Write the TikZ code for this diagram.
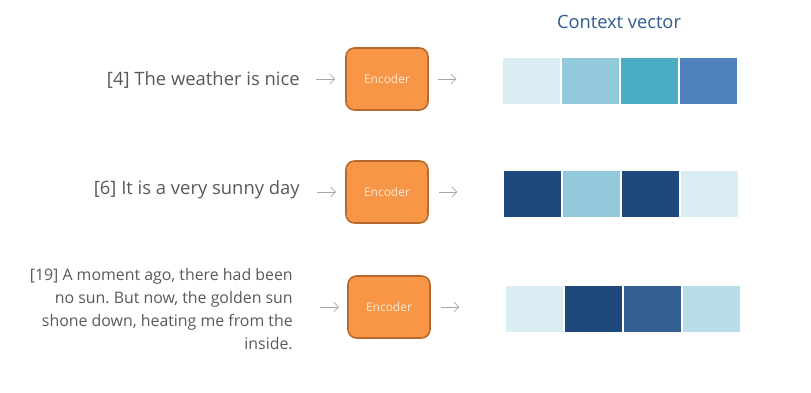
\documentclass[tikz,border=0pt]{standalone}
\usepackage{fontspec}
\setmainfont{Open Sans}
\usetikzlibrary{positioning,arrows.meta}

\definecolor{txtgray}{HTML}{595959}
\definecolor{titleblue}{HTML}{2E5A8F}
\definecolor{arrgray}{HTML}{A6A6A6}
\definecolor{encfill}{HTML}{F79646}
\definecolor{encline}{HTML}{B7692E}
\definecolor{enctext}{HTML}{FDE9D9}
\definecolor{vpale}{HTML}{DAEDF3}
\definecolor{vlight}{HTML}{92CADB}
\definecolor{vsoft}{HTML}{B7DEE8}
\definecolor{vteal}{HTML}{4BACC6}
\definecolor{vmid}{HTML}{4F81BD}
\definecolor{vsteel}{HTML}{355F91}
\definecolor{vnavy}{HTML}{1F497D}

\begin{document}
\frenchspacing
\begin{tikzpicture}[x=0.025cm, y=-0.025cm, >={Straight Barb[length=3.5pt,width=7pt]},
	sent/.style={text=txtgray, font=\fontsize{13.1}{17}\selectfont, anchor=east, inner sep=0pt, align=right},
	encsent/.style={sent, font=\fontsize{11.3}{16.5}\selectfont},
	enc/.style={draw=encline, fill=encfill, rounded corners=6pt, line width=1.1pt, minimum width=2.05cm, minimum height=1.55cm, text=enctext, font=\fontsize{8.5}{10}\selectfont},
	cell/.style={draw=white, line width=0.8pt, minimum width=1.475cm, minimum height=1.2cm, inner sep=0pt},
	flow/.style={->, draw=arrgray, line width=0.5pt}]
	\useasboundingbox (0,0) rectangle (811,393);

	\node[text=titleblue, font=\fontsize{13}{15}\selectfont] (title) at (619,22) {Context vector};

	% sentences
	\node[sent] (s1) at (300,80) {[4] The weather is nice};
	\node[sent] (s2) at (300,190) {[6] It is a very sunny day};
	\node[encsent] (s3) at (293,309) {[19] A moment ago, there had been\\no sun. But now, the golden sun\\shone down, heating me from the\\inside.};

	% encoders
	\node[enc] (e1) at (387,79) {Encoder};
	\node[enc] (e2) at (387,192) {Encoder};
	\node[enc] (e3) at (389,307) {Encoder};

	% context vectors
	\foreach \c [count=\i] in {vpale,vlight,vteal,vmid}
		\node[cell, fill=\c] (v1-\i) at ({502+59*(\i-0.5)},81) {};
	\foreach \c [count=\i] in {vnavy,vlight,vnavy,vpale}
		\node[cell, fill=\c] (v2-\i) at ({503+59*(\i-0.5)},194) {};
	\foreach \c [count=\i] in {vpale,vnavy,vsteel,vsoft}
		\node[cell, fill=\c] (v3-\i) at ({505+59*(\i-0.5)},309) {};

	% arrows
	\draw[flow, shorten <=0.4cm, shorten >=0.25cm] (e1.west -| s1.east) -- (e1.west);
	\draw[flow, shorten <=0.42cm, shorten >=0.23cm] (e2.west -| s2.east) -- (e2.west);
	\draw[flow, shorten <=0.675cm, shorten >=0.2cm] (e3.west -| s3.east) -- (e3.west);
	\draw[flow, shorten <=0.225cm, shorten >=1.125cm] (e1.east) -- (e1.east -| v1-1.west);
	\draw[flow, shorten <=0.25cm, shorten >=1.125cm] (e2.east) -- (e2.east -| v2-1.west);
	\draw[flow, shorten <=0.25cm, shorten >=1.125cm] (e3.east) -- (e3.east -| v3-1.west);
\end{tikzpicture}
\end{document}
